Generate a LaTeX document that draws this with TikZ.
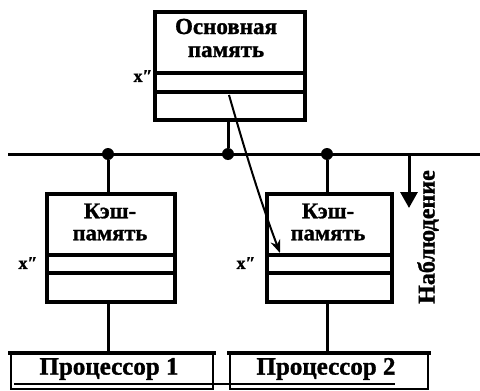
\documentclass[tikz,border=0pt]{standalone}
\usepackage{fontspec}
\setmainfont{Liberation Serif}[BoldFeatures={FakeBold=1.2}]
\usetikzlibrary{arrows.meta}
\tikzset{
  box/.style={draw, line width=3.5pt, anchor=north west, inner sep=0pt},
  divider/.style={line width=3.5pt},
  wire/.style={line width=3pt},
  junction/.style={circle, fill, inner sep=0pt, minimum size=12pt},
  lbl/.style={font=\bfseries\fontsize{23}{23}\selectfont, align=center, inner sep=0pt},
  clbl/.style={font=\bfseries\fontsize{22.5}{22}\selectfont, align=center, inner sep=0pt},
  xlbl/.style={font=\bfseries\fontsize{18}{18}\selectfont, inner sep=0pt},
  procbox/.style={draw, line width=1.8pt, anchor=north west, inner sep=0pt},
  proclbl/.style={font=\bfseries\fontsize{25}{25}\selectfont, inner sep=0pt},
}
\begin{document}
\begin{tikzpicture}[x=1pt,y=-1pt]
\useasboundingbox (0,0) rectangle (480,391);
% main memory
\node[box, minimum width=150pt, minimum height=108pt] (mm) at (153,10) {};
\draw[divider] (153,73) -- (303,73);
\draw[divider] (153,92) -- (303,92);
\node[lbl] (mmt) at (226,38) {Основная\\память};
\node[xlbl] (mmx) at (143,76) {x″};
% bus
\coordinate (busL) at (8,154);
\coordinate (busR) at (480,154);
\draw[wire] (busL) -- (busR);
\node[junction] (j1) at (108,154) {};
\node[junction] (j2) at (228,154) {};
\node[junction] (j3) at (327,154) {};
\coordinate (mmb) at (228,118);
\draw[wire] (mmb) -- (j2);
% caches
\node[box, minimum width=128pt, minimum height=108pt] (c1) at (45,192) {};
\draw[divider] (45,255) -- (173,255);
\draw[divider] (45,273) -- (173,273);
\node[clbl] (c1t) at (110,222) {Кэш-\\память};
\node[xlbl] (c1x) at (28,263) {x″};
\node[box, minimum width=125pt, minimum height=108pt] (c2) at (265,192) {};
\draw[divider] (265,255) -- (390,255);
\draw[divider] (265,273) -- (390,273);
\node[clbl] (c2t) at (328,222) {Кэш-\\память};
\node[xlbl] (c2x) at (246,263) {x″};
\coordinate (c1top) at (108,192);
\coordinate (c2top) at (327,192);
\draw[wire] (j1) -- (c1top);
\draw[wire] (j3) -- (c2top);
% processors
\node[procbox, minimum width=202pt, minimum height=35pt] (p1) at (10,353) {};
\node[procbox, minimum width=198pt, minimum height=35pt] (p2) at (229,353) {};
\draw[line width=4.5pt] (p1.north west) ++(-2,0) -- ([xshift=2pt]p1.north east);
\draw[line width=4.5pt] (p2.north west) ++(-2,0) -- ([xshift=2pt]p2.north east);
\coordinate (c1bot) at (108,300);
\coordinate (c2bot) at (327,300);
\draw[wire] (c1bot) -- (108,353);
\draw[wire] (c2bot) -- (327,353);
\node[proclbl] (p1t) at (109,369) {Процессор 1};
\node[proclbl] (p2t) at (326,369) {Процессор 2};
\draw[line width=1.5pt] (14,384) -- (395,384);
% transfer arrow
\coordinate (src) at (229,95);
\coordinate (dst) at (280,253);
\draw[line width=2pt, -{Stealth[length=13pt,width=10pt]}] (src) .. controls (242,140) and (258,195) .. (dst);
% snoop
\coordinate (snA) at (409,154);
\coordinate (snB) at (409,208);
\draw[wire, -{Triangle[length=16pt,width=17pt]}] (snA) -- (snB);
\node[font=\bfseries\fontsize{24}{24}\selectfont, rotate=90, inner sep=0pt] (snt) at (428,237) {Наблюдение};
\end{tikzpicture}
\end{document}
